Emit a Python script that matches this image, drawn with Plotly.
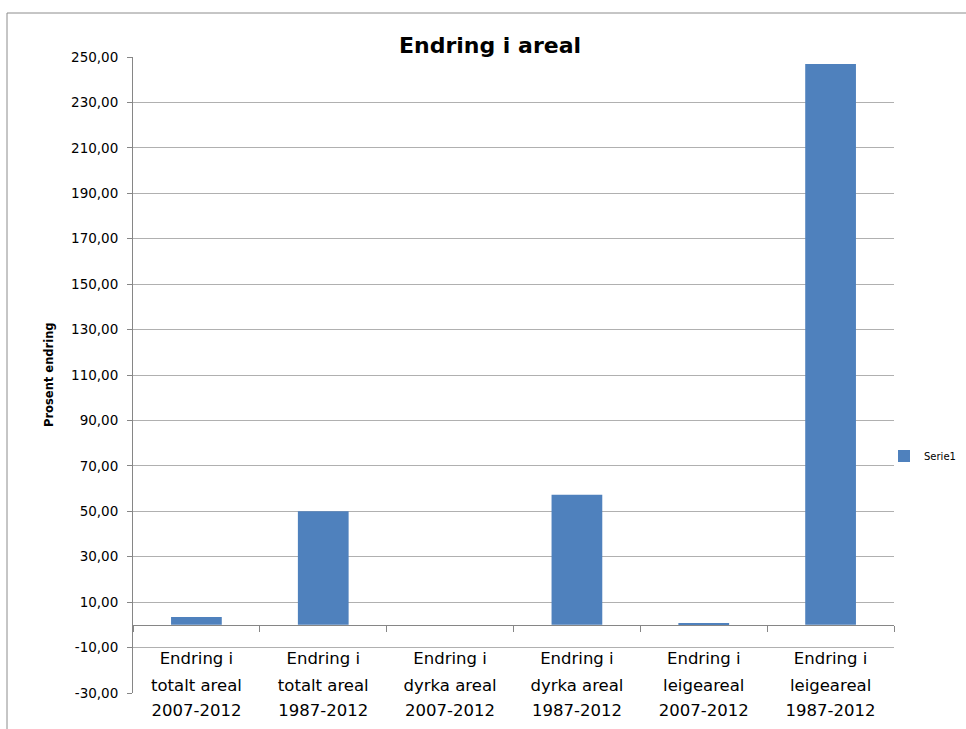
import plotly.graph_objects as go

# Data
categories = [
    "totalt_2007", "totalt_1987",
    "dyrka_2007", "dyrka_1987",
    "leige_2007", "leige_1987",
]
label_line1 = ["Endring i"] * 6
label_line2 = ["totalt areal", "totalt areal", "dyrka areal",
               "dyrka areal", "leigeareal", "leigeareal"]
label_line3 = ["2007-2012", "1987-2012", "2007-2012",
               "1987-2012", "2007-2012", "1987-2012"]
serie1 = [3.5, 50.0, 0.0, 57.3, 0.5, 246.9]
series_name = "Serie1"
title_text = "Endring i areal"
y_title = "Prosent endring"
y_min, y_max, y_step = -30, 250, 20
y_ticks = list(range(y_min, y_max + 1, y_step))
y_ticktext = [f"{v:.2f}".replace(".", ",") for v in y_ticks]

# Layout geometry (pixels)
W, H = 966, 729
L, R, T, B = 133, 72, 57, 36
pw, ph = W - L - R, H - T - B


def px_x(p):
    return (p - L) / pw


def px_y(p):
    return (H - B - p) / ph


FONT = "'DejaVu Sans', 'Open Sans', sans-serif"
AXIS_COL = "#868686"
GRID_COL = "#b0b0b0"
LINE_GAP = 25            # spacing between the stacked category label lines
FIRST_STANDOFF = 18

fig = go.Figure()
fig.add_trace(go.Bar(
    x=categories,
    y=serie1,
    name=series_name,
    marker=dict(color="#4f81bd", line=dict(width=0)),
    showlegend=True,
    xaxis="x",
))

# empty helper traces so the extra label axes know the categories
for ax in ("x2", "x3"):
    fig.add_trace(go.Scatter(
        x=categories, y=[None] * len(categories),
        mode="markers", showlegend=False, hoverinfo="skip",
        xaxis=ax, yaxis="y",
    ))

# the category axis crosses the value axis at zero
zero_pos = (0 - y_min) / (y_max - y_min)

label_axis_common = dict(
    type="category",
    anchor="free",
    position=zero_pos,
    showgrid=False,
    zeroline=False,
    automargin=False,
    tickmode="array",
    tickvals=categories,
    tickfont=dict(family=FONT, size=16.5, color="#000000"),
)

fig.update_layout(
    width=W,
    height=H,
    margin=dict(l=L, r=R, t=T, b=B, pad=0, autoexpand=False),
    paper_bgcolor="white",
    plot_bgcolor="white",
    bargap=0.6,
    font=dict(family=FONT, color="#000000"),
    title=dict(
        text="<b>" + title_text + "</b>",
        font=dict(family=FONT, size=22, color="#000000"),
        x=490 / W, xanchor="center", xref="container",
        y=1 - 45 / H, yanchor="middle", yref="container",
    ),
    xaxis=dict(
        **label_axis_common,
        ticktext=label_line1,
        showline=True,
        linecolor=AXIS_COL,
        linewidth=1,
        ticks="outside",
        tickson="boundaries",
        ticklen=6,
        tickcolor=AXIS_COL,
        ticklabelstandoff=FIRST_STANDOFF,
    ),
    xaxis2=dict(
        **label_axis_common,
        ticktext=label_line2,
        overlaying="x",
        matches="x",
        showline=False,
        ticks="",
        ticklabelstandoff=FIRST_STANDOFF + 6 + LINE_GAP,
    ),
    xaxis3=dict(
        **label_axis_common,
        ticktext=label_line3,
        overlaying="x",
        matches="x",
        showline=False,
        ticks="",
        ticklabelstandoff=FIRST_STANDOFF + 6 + 2 * LINE_GAP,
    ),
    yaxis=dict(
        range=[y_min, y_max],
        tickmode="array",
        tickvals=y_ticks,
        ticktext=y_ticktext,
        showline=True,
        linecolor=AXIS_COL,
        linewidth=1,
        ticks="outside",
        ticklen=5,
        tickcolor=AXIS_COL,
        showgrid=True,
        gridcolor=GRID_COL,
        gridwidth=1,
        zeroline=False,
        automargin=False,
        tickfont=dict(family=FONT, size=13.5, color="#000000"),
        ticklabelstandoff=6,
    ),
    legend=dict(
        xref="container", yref="container",
        x=884 / W, xanchor="left",
        y=1 - 456 / H, yanchor="middle",
        font=dict(family=FONT, size=10, color="#000000"),
        bgcolor="rgba(0,0,0,0)",
        itemwidth=30,
    ),
    annotations=[
        dict(
            text="<b>" + y_title + "</b>",
            xref="paper", yref="paper",
            x=px_x(49), y=0.5,
            xanchor="center", yanchor="middle",
            textangle=-90,
            showarrow=False,
            font=dict(family=FONT, size=11.5, color="#000000"),
        )
    ],
    shapes=[
        # chart frame
        dict(
            type="rect", xref="paper", yref="paper",
            x0=px_x(7), x1=px_x(985), y0=px_y(745), y1=px_y(13),
            line=dict(color="#8c8c8c", width=1),
            fillcolor="rgba(0,0,0,0)",
            layer="below",
        )
    ],
)

fig.write_html("out.html")
